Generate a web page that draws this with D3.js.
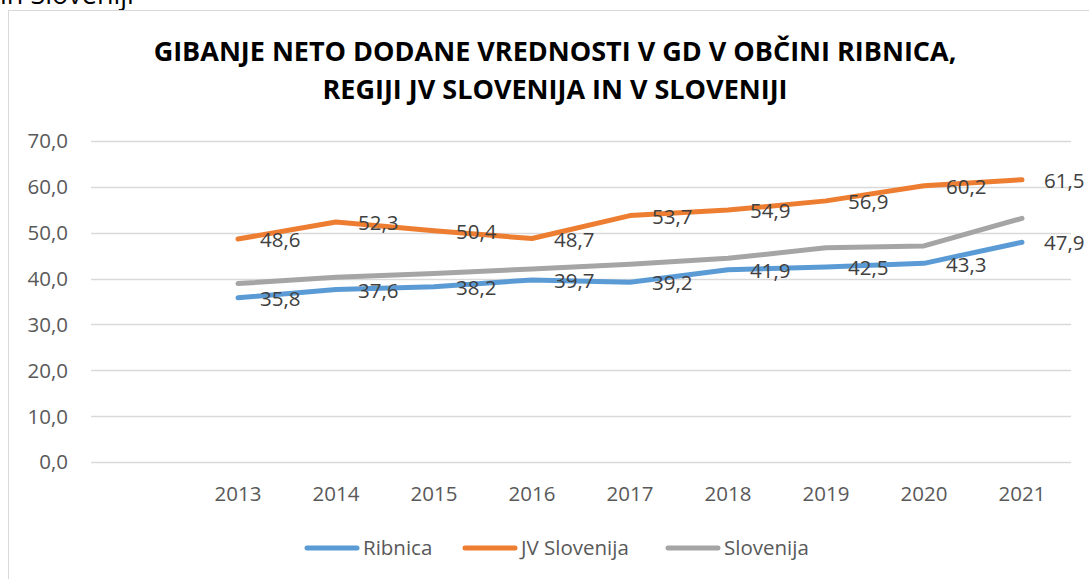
<!DOCTYPE html>
<html>
<head>
<meta charset="utf-8">
<script src="https://cdn.jsdelivr.net/npm/d3@7"></script>
<style>
  body { margin: 0; background: #fff; }
  svg text { font-family: "Open Sans", sans-serif; }
</style>
</head>
<body>
<div id="chart"></div>
<script>
// data
const years = ["2013", "2014", "2015", "2016", "2017", "2018", "2019", "2020", "2021"];
const ribnica = [35.8, 37.6, 38.2, 39.7, 39.2, 41.9, 42.5, 43.3, 47.9];
const jvSlovenija = [48.6, 52.3, 50.4, 48.7, 53.7, 54.9, 56.9, 60.2, 61.5];
const slovenija = [38.9, 40.3, 41.1, 42.1, 43.1, 44.4, 46.7, 47.1, 53.1];
const yTicks = [0, 10, 20, 30, 40, 50, 60, 70];
const seriesNames = ["Ribnica", "JV Slovenija", "Slovenija"];
const titleLines = ["GIBANJE NETO DODANE VREDNOSTI V GD V OBČINI RIBNICA,", "REGIJI JV SLOVENIJA IN V SLOVENIJI"];

const width = 1089, height = 579;
const colors = ["#5b9bd5", "#ed7d31", "#a5a5a5"];
const series = [
  { name: seriesNames[0], values: ribnica, color: colors[0], labels: true },
  { name: seriesNames[1], values: jvSlovenija, color: colors[1], labels: true },
  { name: seriesNames[2], values: slovenija, color: colors[2], labels: false }
];

const svg = d3.select("#chart").append("svg")
  .attr("width", width)
  .attr("height", height);

// text of the page above, cut off by the crop
svg.append("text")
  .attr("x", 0).attr("y", 4)
  .style("font-size", "27px")
  .style("fill", "#000")
  .text("in Sloveniji");

// chart area border
svg.append("rect")
  .attr("x", 8.5).attr("y", 10.5)
  .attr("width", 1200).attr("height", 700)
  .attr("fill", "#fff")
  .attr("stroke", "#d9d9d9")
  .attr("stroke-width", 1);

// title
svg.append("text")
  .attr("x", 555)
  .attr("text-anchor", "middle")
  .style("font-size", "27px")
  .style("font-weight", "bold")
  .style("fill", "#000")
  .selectAll("tspan")
  .data(titleLines)
  .join("tspan")
    .attr("x", 555)
    .attr("y", (d, i) => 61 + i * 38)
    .text(d => d);

// scales (first category is an empty slot, like in the source sheet)
const x = d3.scaleBand()
  .domain([""].concat(years))
  .range([91, 1071]);

const y = d3.scaleLinear()
  .domain([0, 70])
  .range([462.3, 140.7]);

const cx = d => x(d) + x.bandwidth() / 2;

// gridlines
svg.append("g")
  .selectAll("line")
  .data(yTicks)
  .join("line")
    .attr("x1", x.range()[0])
    .attr("x2", x.range()[1])
    .attr("y1", d => Math.round(y(d)) + 0.5)
    .attr("y2", d => Math.round(y(d)) + 0.5)
    .attr("stroke", "#d9d9d9")
    .attr("stroke-width", 1.5);

// y axis labels
const fmt = d => d3.format(".1f")(d).replace(".", ",");
svg.append("g")
  .selectAll("text")
  .data(yTicks)
  .join("text")
    .attr("x", 68)
    .attr("y", d => y(d))
    .attr("dy", "0.35em")
    .attr("text-anchor", "end")
    .style("font-size", "20.5px")
    .style("fill", "#595959")
    .text(fmt);

// x axis labels
svg.append("g")
  .selectAll("text")
  .data(years)
  .join("text")
    .attr("x", d => cx(d))
    .attr("y", 494)
    .attr("dy", "0.35em")
    .attr("text-anchor", "middle")
    .style("font-size", "20.5px")
    .style("fill", "#595959")
    .text(d => d);

// lines
const line = d3.line()
  .x((d, i) => cx(years[i]))
  .y(d => y(d));

svg.append("g")
  .selectAll("path")
  .data(series)
  .join("path")
    .attr("d", d => line(d.values))
    .attr("fill", "none")
    .attr("stroke", d => d.color)
    .attr("stroke-width", 5)
    .attr("stroke-linejoin", "round")
    .attr("stroke-linecap", "round");

// data labels (right of point)
series.filter(s => s.labels).forEach(s => {
  svg.append("g")
    .selectAll("text")
    .data(s.values)
    .join("text")
      .attr("x", (d, i) => cx(years[i]) + 22)
      .attr("y", d => y(d) + 1)
      .attr("dy", "0.35em")
      .style("font-size", "20.5px")
      .style("fill", "#404040")
      .text(fmt);
});

// legend
const legendX = [307, 465, 668];
const legend = svg.append("g")
  .selectAll("g")
  .data(series)
  .join("g")
    .attr("transform", (d, i) => "translate(" + legendX[i] + ",548)");

legend.append("line")
  .attr("x1", 0).attr("x2", 50)
  .attr("stroke", d => d.color)
  .attr("stroke-width", 5)
  .attr("stroke-linecap", "round");

legend.append("text")
  .attr("x", 56)
  .attr("dy", "0.35em")
  .style("font-size", "20.5px")
  .style("fill", "#595959")
  .text(d => d.name);
</script>
</body>
</html>
